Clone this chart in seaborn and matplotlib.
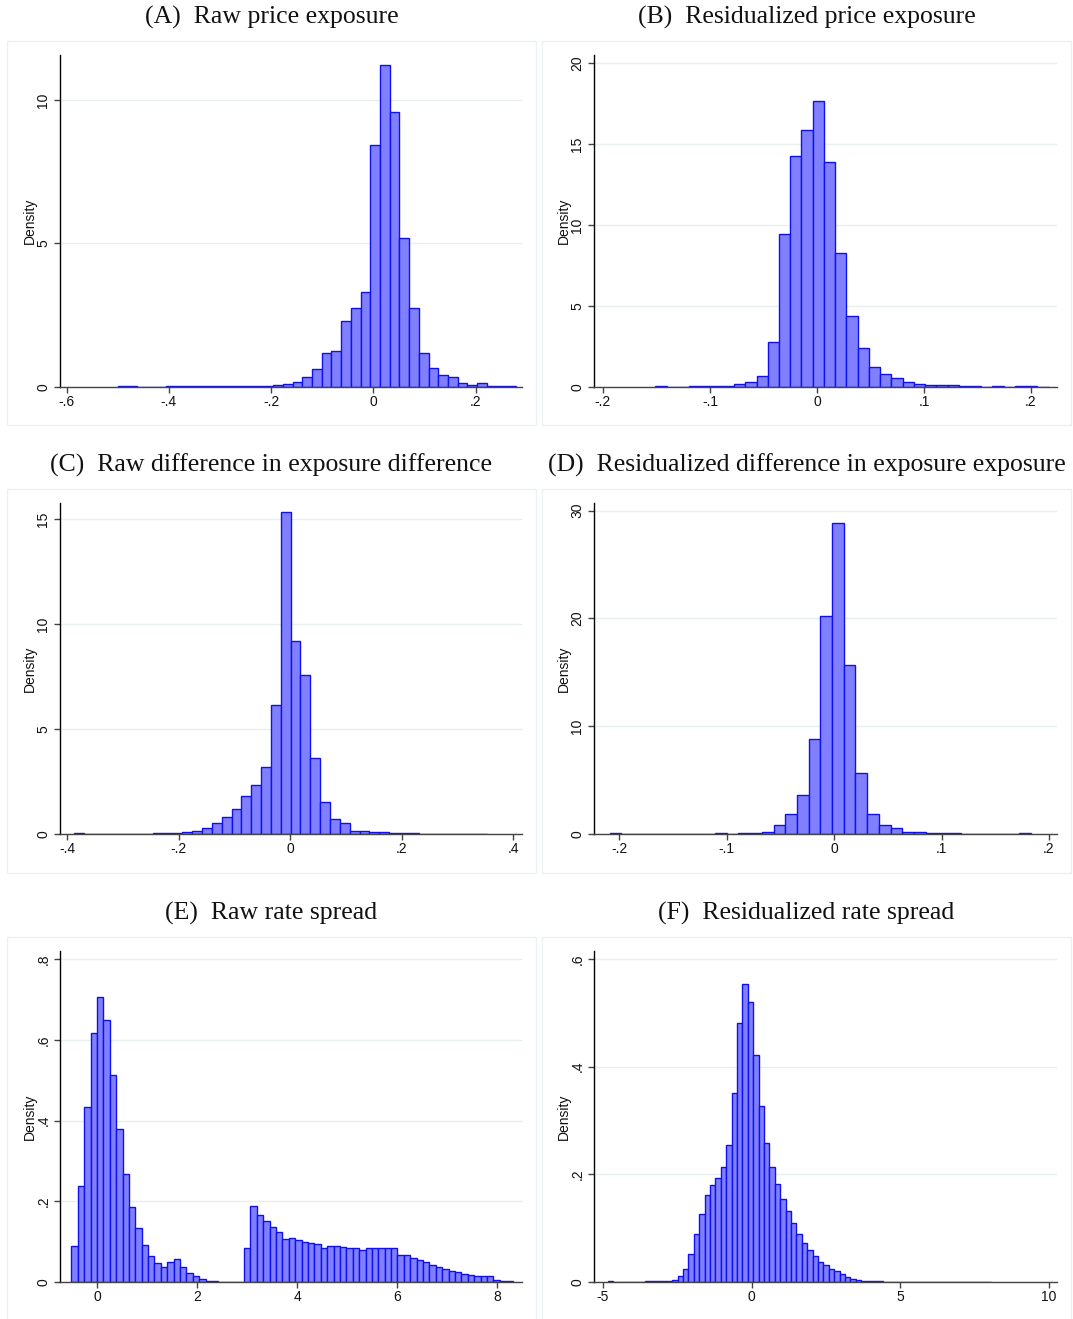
import numpy as np
import pandas as pd
import seaborn as sns
import matplotlib.pyplot as plt
from matplotlib.patches import Rectangle


OUTPUT_PATH = "out.png"

# (A) Raw price exposure
A_START = -0.5
A_WIDTH = 0.019
A_DENSITY = [0.04, 0.02, 0, 0, 0, 0.01, 0.01, 0.01, 0.02, 0.01, 0.02, 0.03, 0.03, 0.02,
             0.03, 0.04, 0.06, 0.10, 0.15, 0.35, 0.62, 1.17, 1.23, 2.28, 2.74, 3.30, 8.44,
             11.23, 9.59, 5.19, 2.74, 1.17, 0.65, 0.42, 0.35, 0.14, 0.07, 0.12, 0.04, 0.03, 0.02]
A_XTICKS = [-0.6, -0.4, -0.2, 0, 0.2]
A_XLABELS = ["-.6", "-.4", "-.2", "0", ".2"]
A_YTICKS = [0, 5, 10]
A_YLABELS = ["0", "5", "10"]

# (B) Residualized price exposure
B_START = -0.151
B_WIDTH = 0.0105
B_DENSITY = [0.02, 0, 0.01, 0.02, 0.03, 0.04, 0.06, 0.16, 0.31, 0.66, 2.76, 9.42, 14.24,
             15.88, 17.63, 13.87, 8.25, 4.36, 2.41, 1.23, 0.78, 0.56, 0.27, 0.19, 0.08,
             0.08, 0.12, 0.03, 0.02, 0.01, 0.02, 0.01, 0.02, 0.02, 0.01]
B_XTICKS = [-0.2, -0.1, 0, 0.1, 0.2]
B_XLABELS = ["-.2", "-.1", "0", ".1", ".2"]
B_YTICKS = [0, 5, 10, 15, 20]
B_YLABELS = ["0", "5", "10", "15", "20"]

# (C) Raw difference in exposure difference
C_START = -0.387
C_WIDTH = 0.01764
C_DENSITY = [0.04, 0, 0, 0, 0.01, 0.01, 0.02, 0.02, 0.03, 0.04, 0.05, 0.08, 0.16, 0.27,
             0.51, 0.79, 1.17, 1.81, 2.33, 3.17, 6.13, 15.33, 9.21, 7.56, 3.60, 1.54, 0.73,
             0.51, 0.16, 0.16, 0.11, 0.08, 0.05, 0.04, 0.03, 0.02, 0.02, 0.01, 0.01, 0.01,
             0, 0.02]
C_XTICKS = [-0.4, -0.2, 0, 0.2, 0.4]
C_XLABELS = ["-.4", "-.2", "0", ".2", ".4"]
C_YTICKS = [0, 5, 10, 15]
C_YLABELS = ["0", "5", "10", "15"]

# (D) Residualized difference in exposure exposure
D_START = -0.2086
D_WIDTH = 0.01088
D_DENSITY = [0.05, 0.02, 0.02, 0.02, 0.02, 0.02, 0.02, 0, 0.03, 0.05, 0, 0.05, 0.10, 0.22,
             0.80, 1.83, 3.59, 8.85, 20.18, 28.81, 15.66, 5.63, 1.83, 0.80, 0.53, 0.22,
             0.22, 0.10, 0.05, 0.05, 0.03, 0.03, 0.02, 0.02, 0, 0.05]
D_XTICKS = [-0.2, -0.1, 0, 0.1, 0.2]
D_XLABELS = ["-.2", "-.1", "0", ".1", ".2"]
D_YTICKS = [0, 10, 20, 30]
D_YLABELS = ["0", "10", "20", "30"]

# (E) Raw rate spread
E_START = -0.513
E_WIDTH = 0.1279
E_DENSITY = [0.088, 0.237, 0.433, 0.617, 0.706, 0.648, 0.514, 0.378, 0.267, 0.185, 0.133,
             0.092, 0.064, 0.048, 0.036, 0.049, 0.056, 0.036, 0.022, 0.014, 0.007, 0.003,
             0.002, 0.001, 0.001, 0.001, 0.001, 0.084, 0.188, 0.166, 0.151, 0.136, 0.124,
             0.106, 0.109, 0.103, 0.098, 0.096, 0.093, 0.085, 0.088, 0.088, 0.086, 0.085,
             0.085, 0.079, 0.084, 0.085, 0.085, 0.083, 0.083, 0.068, 0.068, 0.060, 0.055,
             0.049, 0.043, 0.036, 0.033, 0.028, 0.024, 0.021, 0.018, 0.014, 0.014, 0.014,
             0.005, 0.002, 0.002]
E_XTICKS = [0, 2, 4, 6, 8]
E_XLABELS = ["0", "2", "4", "6", "8"]
E_YTICKS = [0, 0.2, 0.4, 0.6, 0.8]
E_YLABELS = ["0", ".2", ".4", ".6", ".8"]

# (F) Residualized rate spread
F_START = -4.844
F_WIDTH = 0.1814
F_DENSITY = [0.001, 0.0005, 0.0005, 0.0005, 0.0005, 0.0005, 0.0005, 0.001, 0.001, 0.001,
             0.001, 0.002, 0.004, 0.011, 0.025, 0.052, 0.089, 0.126, 0.161, 0.180, 0.193,
             0.213, 0.255, 0.351, 0.481, 0.554, 0.520, 0.421, 0.327, 0.258, 0.213, 0.182,
             0.154, 0.132, 0.109, 0.090, 0.073, 0.059, 0.048, 0.038, 0.032, 0.025, 0.020,
             0.015, 0.010, 0.006, 0.003, 0.002, 0.001, 0.001, 0.001, 0.0008, 0.0008, 0.0005,
             0.0005, 0.0005, 0.0005, 0.0005, 0.0005, 0.0005, 0.0005, 0.0005, 0.0005, 0.0005,
             0.0005, 0.0005, 0.0005, 0.0005, 0.0005, 0.0005, 0.0005]
F_XTICKS = [-5, 0, 5, 10]
F_XLABELS = ["-5", "0", "5", "10"]
F_YTICKS = [0, 0.2, 0.4, 0.6]
F_YLABELS = ["0", ".2", ".4", ".6"]

TITLES = [
    "(A)  Raw price exposure",
    "(B)  Residualized price exposure",
    "(C)  Raw difference in exposure difference",
    "(D)  Residualized difference in exposure exposure",
    "(E)  Raw rate spread",
    "(F)  Residualized rate spread",
]

W, H = 1073, 1319
BAR_FILL = "#8080ff"
BAR_EDGE = "#1010ee"
GRID = "#e8eff1"
FRAME = "#ebf0f2"

# pixel layout of the Stata graph: (left, right) columns and (top, bottom) rows
COLS = [(60, 522), (594, 1057)]
ROWS = [(55, 386.7), (503, 834), (951, 1282)]
FRAME_COLS = [(7, 536), (542, 1071)]
FRAME_ROWS = [(41, 425), (489, 873), (937, 1321)]
TITLE_Y = [17, 465, 913]

XLIMS = [(-0.613, 0.2907), (-0.2084, 0.2243), (-0.4126, 0.416),
         (-0.2233, 0.2074), (-0.74, 8.5), (-5.3, 10.27)]
YTOPS = [11.57, 20.5, 15.76, 30.7, 0.82, 0.615]


def draw_panel(ax, start, width, density, xticks, xlabels, yticks, ylabels, xlim, ytop):
    edges = start + width * np.arange(len(density) + 1)
    df = pd.DataFrame({
        "value": (edges[:-1] + edges[1:]) / 2,
        "density": density,
    })
    sns.histplot(data=df, x="value", weights="density", bins=edges.tolist(), stat="count",
                 ax=ax, color=BAR_FILL, edgecolor=BAR_EDGE, alpha=1, linewidth=1.0)
    ax.set_xlim(*xlim)
    ax.set_ylim(0, ytop)
    ax.set_xticks(xticks)
    ax.set_xticklabels(xlabels)
    ax.set_yticks(yticks)
    ax.set_yticklabels(ylabels)
    ax.yaxis.grid(True, color=GRID, linewidth=1)
    ax.xaxis.grid(False)
    ax.set_axisbelow(True)
    for side in ["top", "right"]:
        ax.spines[side].set_visible(False)
    ax.spines["left"].set_color("black")
    ax.spines["bottom"].set_color("#444444")
    ax.spines["left"].set_linewidth(1.0)
    ax.spines["bottom"].set_linewidth(1.0)
    ax.tick_params(axis="both", direction="out", length=4, width=1, color="#444444",
                   labelsize=10, pad=2, labelcolor="#111111")
    ax.tick_params(axis="y", labelrotation=90, pad=3)
    for lab in ax.get_yticklabels():
        lab.set_va("center")
    ax.set_xlabel("")
    ax.set_ylabel("Density", fontsize=10, color="#111111")
    ax.yaxis.set_label_coords(-0.05, 0.5)


def main() -> None:
    sns.set_theme(style="ticks")
    plt.rcParams["font.family"] = ["Liberation Sans", "DejaVu Sans"]

    fig = plt.figure(figsize=(W / 100, H / 100), dpi=100)
    fig.patch.set_facecolor("white")

    for (fx0, fx1) in FRAME_COLS:
        for (fy0, fy1) in FRAME_ROWS:
            fig.add_artist(Rectangle((fx0 / W, 1 - fy1 / H), (fx1 - fx0) / W, (fy1 - fy0) / H,
                                     transform=fig.transFigure, fill=False,
                                     edgecolor=FRAME, linewidth=1))

    panels = [
        (A_START, A_WIDTH, A_DENSITY, A_XTICKS, A_XLABELS, A_YTICKS, A_YLABELS),
        (B_START, B_WIDTH, B_DENSITY, B_XTICKS, B_XLABELS, B_YTICKS, B_YLABELS),
        (C_START, C_WIDTH, C_DENSITY, C_XTICKS, C_XLABELS, C_YTICKS, C_YLABELS),
        (D_START, D_WIDTH, D_DENSITY, D_XTICKS, D_XLABELS, D_YTICKS, D_YLABELS),
        (E_START, E_WIDTH, E_DENSITY, E_XTICKS, E_XLABELS, E_YTICKS, E_YLABELS),
        (F_START, F_WIDTH, F_DENSITY, F_XTICKS, F_XLABELS, F_YTICKS, F_YLABELS),
    ]

    for i, panel in enumerate(panels):
        row, col = divmod(i, 2)
        x0, x1 = COLS[col]
        y0, y1 = ROWS[row]
        ax = fig.add_axes([x0 / W, 1 - y1 / H, (x1 - x0) / W, (y1 - y0) / H])
        draw_panel(ax, *panel, XLIMS[i], YTOPS[i])
        fx0, fx1 = FRAME_COLS[col]
        fig.text((fx0 + fx1) / 2 / W, 1 - TITLE_Y[row] / H, TITLES[i],
                 ha="center", va="center", fontsize=18.5,
                 family=["Liberation Serif", "DejaVu Serif"], color="#111111")

    fig.savefig(OUTPUT_PATH, dpi=100, facecolor="white")
    plt.close(fig)


if __name__ == "__main__":
    main()
